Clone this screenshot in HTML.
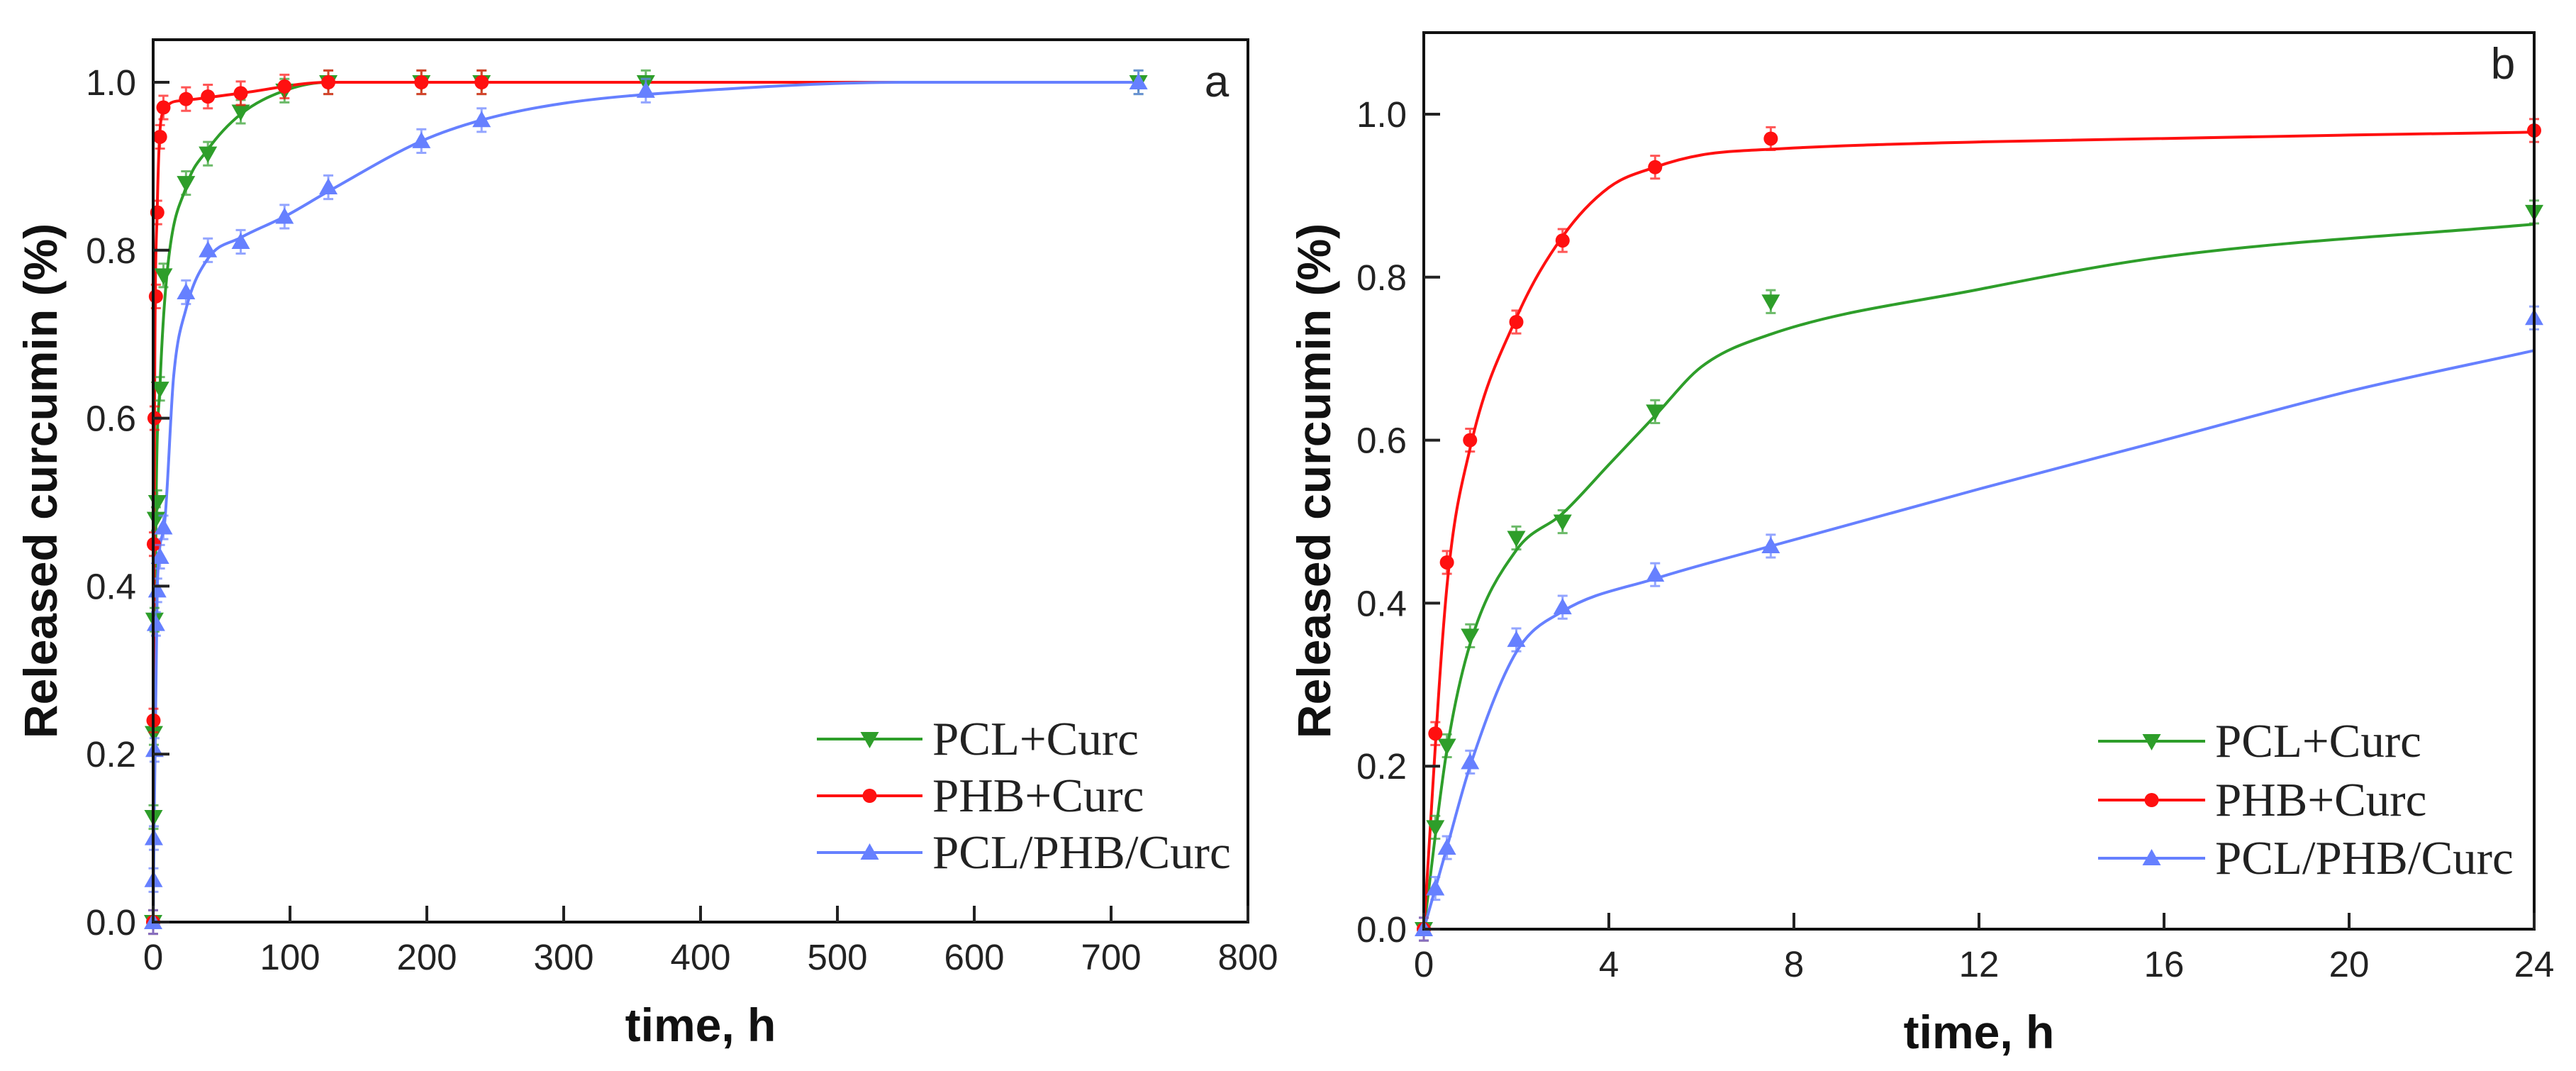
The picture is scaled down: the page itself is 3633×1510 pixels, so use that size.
<!DOCTYPE html>
<html><head><meta charset="utf-8"><style>
html,body{margin:0;padding:0;background:#fff}
svg{display:block}
.tk{font-family:"Liberation Sans",Arial,sans-serif;font-size:51px;fill:#222}
.tt{font-family:"Liberation Sans",Arial,sans-serif;font-size:66px;font-weight:bold;fill:#111}
.lg{font-family:"Liberation Serif","Times New Roman",serif;font-size:67px;fill:#222}
</style></head><body>
<svg id="chart" width="3633" height="1510" viewBox="0 0 3633 1510" xmlns="http://www.w3.org/2000/svg"></svg>
<script>
// ---- data ----
const timeA = [0,0.25,0.5,1,2,3,5,7.5,24,40,64,96,128,196,240,360,720];
const pclA  = [0,0.125,0.225,0.36,0.48,0.5,0.635,0.77,0.88,0.915,0.965,0.99,1,1,1,1,1];
const phbA  = [0,0.24,0.45,0.6,0.745,0.845,0.935,0.97,0.98,0.983,0.987,0.995,1,1,1,null,null];
const blendA= [0,0.05,0.1,0.205,0.355,0.395,0.435,0.47,0.75,0.8,0.81,0.84,0.875,0.93,0.955,0.99,1];
const timeB = [0,0.25,0.5,1,2,3,5,7.5,24];
const pclB  = [0,0.125,0.225,0.36,0.48,0.5,0.635,0.77,0.88];
const phbB  = [0,0.24,0.45,0.6,0.745,0.845,0.935,0.97,0.98];
const blendB= [0,0.05,0.1,0.205,0.355,0.395,0.435,0.47,0.75];
const fitPhbAx=[0,1,3,7.5,20,64,128,720], fitPhbAy=[0,0.6,0.85,0.965,0.978,0.987,1,1];
const fitPclAx=[0,2,5,10,24,40,64,96,128,720], fitPclAy=[0,0.48,0.64,0.77,0.875,0.92,0.962,0.99,1,1];
const fitBlAx=[0,3,8,15,24,40,64,96,128,196,240,300,400,550,720], fitBlAy=[0,0.4,0.47,0.65,0.73,0.79,0.815,0.84,0.87,0.93,0.955,0.975,0.99,1,1];
const fitPhbBx=[0,0.5,1,2,3,4,5,6,7.5,12,24], fitPhbBy=[0,0.42,0.59,0.75,0.85,0.91,0.935,0.95,0.957,0.966,0.978];
const fitPclBx=[0,0.5,1,2,3,4,5,6,7.5,12,16,24], fitPclBy=[0,0.22,0.35,0.465,0.51,0.57,0.63,0.69,0.73,0.785,0.825,0.865];
const fitBlBx=[0,0.5,1,2,3,5,7.5,12,16,20,24], fitBlBy=[0,0.1,0.2,0.34,0.39,0.43,0.47,0.54,0.6,0.66,0.71];
const xTicksA=[0,100,200,300,400,500,600,700,800];
const xTicksB=[0,4,8,12,16,20,24];
const yTicks=[0,0.2,0.4,0.6,0.8,1.0];

const NS="http://www.w3.org/2000/svg";
const svg=document.getElementById('chart');
function mk(tag,attrs,parent){const e=document.createElementNS(NS,tag);for(const k in attrs)e.setAttribute(k,attrs[k]);(parent||svg).appendChild(e);return e;}
const C={pcl:'#2e9e2a',phb:'#ff1010',bl:'#6680ff'};

// monotone cubic (Fritsch-Carlson) path in pixel space
function monoPath(px,py){
  const n=px.length,d=[],m=[];
  for(let i=0;i<n-1;i++)d.push((py[i+1]-py[i])/(px[i+1]-px[i]));
  m[0]=d[0];m[n-1]=d[n-2];
  for(let i=1;i<n-1;i++){m[i]=(d[i-1]*d[i]<=0)?0:(d[i-1]+d[i])/2;}
  for(let i=0;i<n-1;i++){if(d[i]===0){m[i]=0;m[i+1]=0;continue;}
    const a=m[i]/d[i],b=m[i+1]/d[i],s=a*a+b*b;if(s>9){const t=3/Math.sqrt(s);m[i]=t*a*d[i];m[i+1]=t*b*d[i];}}
  let p=`M${px[0].toFixed(1)},${py[0].toFixed(1)}`;
  for(let i=0;i<n-1;i++){const h=(px[i+1]-px[i])/3;
    p+=`C${(px[i]+h).toFixed(1)},${(py[i]+m[i]*h).toFixed(1)} ${(px[i+1]-h).toFixed(1)},${(py[i+1]-m[i+1]*h).toFixed(1)} ${px[i+1].toFixed(1)},${py[i+1].toFixed(1)}`;}
  return p;
}

function marker(g,type,x,y,col){
  let e;
  if(type==='circle'){e=mk('circle',{cx:x,cy:y,r:10,fill:col},g);}
  else if(type==='down'){e=mk('polygon',{points:`${x-13},${y-10} ${x+13},${y-10} ${x},${y+13}`,fill:col},g);}
  else {e=mk('polygon',{points:`${x-13},${y+10} ${x+13},${y+10} ${x},${y-13}`,fill:col},g);}
  
  
}

function panel(P){
  const g=mk('g',{});
  
  
  const sx=v=>P.x0+(v-P.xmin)/(P.xmax-P.xmin)*(P.x1-P.x0);
  const sy=v=>P.y0-(v/P.yUnit);
  P.fits.forEach(f=>{
    const l=mk('path',{d:monoPath(f.x.map(sx),f.y.map(sy)),fill:'none',stroke:f.col,'stroke-width':4,'stroke-linejoin':'round'},g);
    
    
  });
  P.series.forEach(s=>{
    const sg=mk('g',{},g);
    
    
    P.t.forEach((t,i)=>{
      const v=s.v[i]; if(v===null||t>P.xmax)return;
      const x=sx(t),y=sy(v),e=0.014/P.yUnit;
      mk('path',{d:`M${x},${y-e}V${y+e}M${x-7},${y-e}H${x+7}M${x-7},${y+e}H${x+7}`,stroke:s.col,'stroke-width':3,opacity:0.7},sg);
      marker(sg,s.m,x,y,s.col);
    });
  });
  const box=mk('rect',{x:P.x0,y:P.top,width:P.x1-P.x0,height:P.y0-P.top,fill:'none',stroke:'#111','stroke-width':4},g);
  
  
  P.xt.forEach(t=>{const x=sx(t);
    mk('line',{x1:x,x2:x,y1:P.y0,y2:P.y0-23,stroke:'#222','stroke-width':4},g);
    const tx=mk('text',{x:x,y:P.y0+67,'text-anchor':'middle',class:'tk'},g);tx.textContent=t;
    
    
  });
  yTicks.forEach(v=>{const y=sy(v);
    mk('line',{x1:P.x0,x2:P.x0+23,y1:y,y2:y,stroke:'#222','stroke-width':4},g);
    const tx=mk('text',{x:P.x0-24,y:y+18,'text-anchor':'end',class:'tk'},g);tx.textContent=v.toFixed(1);
    
    
  });
  const yt=mk('text',{x:0,y:0,'text-anchor':'middle',class:'tt',transform:`translate(${P.ytx},${(P.top+P.y0)/2}) rotate(-90)`},g);
  yt.textContent='Released curcumin (%)';
  
  
  const xt=mk('text',{x:(P.x0+P.x1)/2,y:P.xty,'text-anchor':'middle',class:'tt'},g);
  xt.textContent='time, h';
  
  
  const lb=mk('text',{x:P.lbx,y:P.lby,'text-anchor':'middle',class:'tk',style:'font-size:62px'},g);
  lb.textContent=P.label;
  
  
  const lg=mk('g',{},g);
  
  
  P.series.forEach((s,i)=>{
    const y=P.legY[i];
    mk('line',{x1:P.legX0,x2:P.legX1,y1:y,y2:y,stroke:s.col,'stroke-width':4},lg);
    marker(lg,s.m,(P.legX0+P.legX1)/2,y,s.col);
    const t=mk('text',{x:P.legX1+14,y:y+22,class:'lg'},lg);t.textContent=s.label;
    
    
  });
}

panel({name:'panel-a',x0:216,x1:1760,xmin:0,xmax:800,y0:1300,top:56,yUnit:1/1184,
  t:timeA,xt:xTicksA,ytx:80,xty:1468,lbx:1716,lby:136,label:'a',
  legX0:1152,legX1:1301,legY:[1042,1122,1202],
  series:[{nm:'pcl',label:'PCL+Curc',v:pclA,col:C.pcl,m:'down'},
          {nm:'phb',label:'PHB+Curc',v:phbA,col:C.phb,m:'circle'},
          {nm:'blend',label:'PCL/PHB/Curc',v:blendA,col:C.bl,m:'up'}],
  fits:[{nm:'pcl',x:fitPclAx,y:fitPclAy,col:C.pcl},{nm:'phb',x:fitPhbAx,y:fitPhbAy,col:C.phb},{nm:'blend',x:fitBlAx,y:fitBlAy,col:C.bl}]});
panel({name:'panel-b',x0:2008,x1:3574,xmin:0,xmax:24,y0:1310,top:46,yUnit:1/1149,
  t:timeB,xt:xTicksB,ytx:1876,xty:1478,lbx:3530,lby:111,label:'b',
  legX0:2959,legX1:3110,legY:[1045,1128,1210],
  series:[{nm:'pcl',label:'PCL+Curc',v:pclB,col:C.pcl,m:'down'},
          {nm:'phb',label:'PHB+Curc',v:phbB,col:C.phb,m:'circle'},
          {nm:'blend',label:'PCL/PHB/Curc',v:blendB,col:C.bl,m:'up'}],
  fits:[{nm:'pcl',x:fitPclBx,y:fitPclBy,col:C.pcl},{nm:'phb',x:fitPhbBx,y:fitPhbBy,col:C.phb},{nm:'blend',x:fitBlBx,y:fitBlBy,col:C.bl}]});
</script>
</body></html>
